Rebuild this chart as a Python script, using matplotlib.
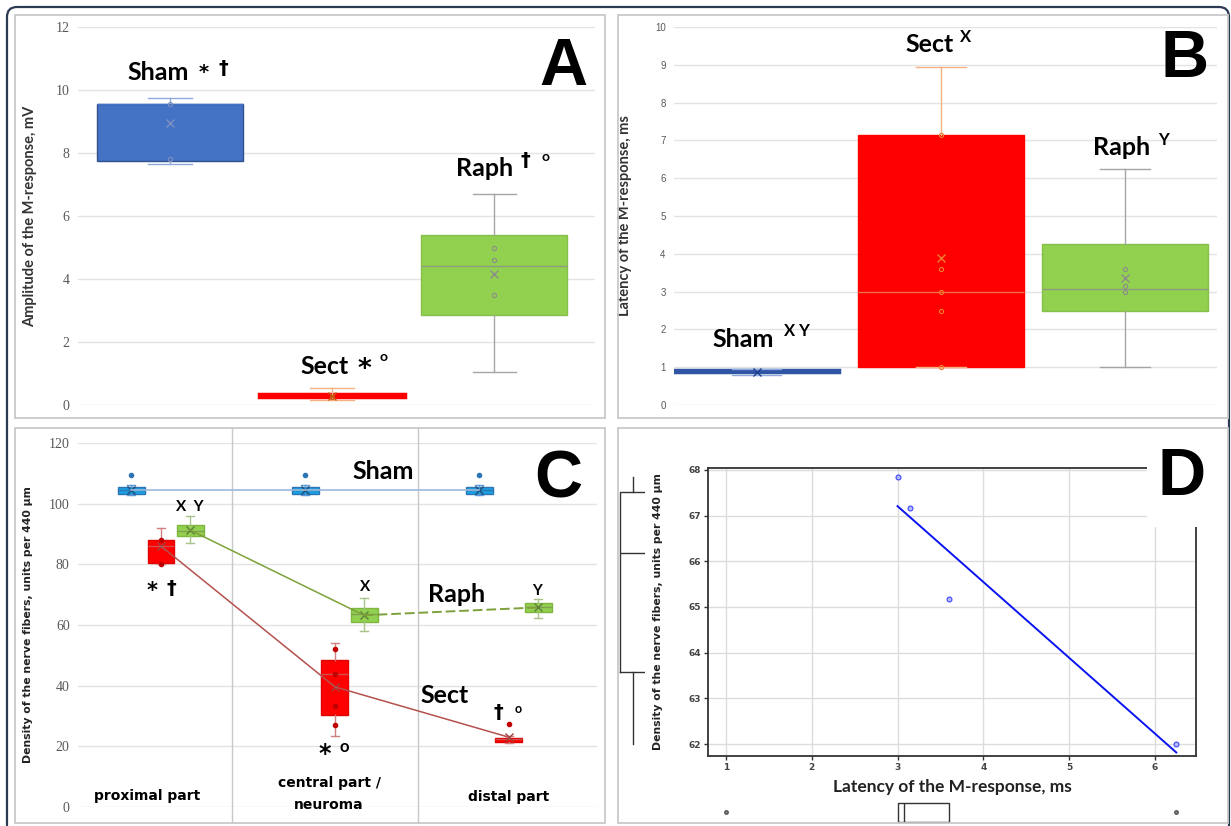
import numpy as np
import matplotlib.pyplot as plt
from matplotlib.patches import Rectangle, FancyBboxPatch
from matplotlib.transforms import IdentityTransform

W, H = 1231, 826

# ---------------- panel A: amplitude of the M-response, mV
a_pos = [0, 1, 2]
a_q1 = [7.75, 0.25, 2.85]
a_med = [9.55, 0.30, 4.40]
a_q3 = [9.55, 0.35, 5.40]
a_lo = [7.65, 0.15, 1.05]
a_hi = [9.75, 0.55, 6.70]
a_mean = [8.95, 0.30, 4.15]
a_pts = [[9.55, 7.80], [0.25], [5.0, 4.6, 3.5]]

# ---------------- panel B: latency of the M-response, ms
b_q1 = [0.87, 1.00, 2.50]
b_med = [0.90, 3.00, 3.08]
b_q3 = [0.93, 7.15, 4.25]
b_lo = [0.80, 1.00, 1.00]
b_hi = [0.95, 8.95, 6.25]
b_mean = [0.88, 3.90, 3.35]
b_pts = [[], [7.15, 3.6, 3.0, 2.5, 1.0], [3.6, 3.15, 3.0]]

# ---------------- panel C: density of nerve fibres along the nerve
c_parts = ["proximal part", "central part /\nneuroma", "distal part"]
sham_q1 = [103.3, 103.3, 103.3]
sham_med = [104.5, 104.5, 104.5]
sham_q3 = [105.6, 105.6, 105.6]
sham_lo = [102.8, 102.8, 102.8]
sham_hi = [106.0, 106.0, 106.0]
sham_mean = [104.6, 104.6, 104.6]
sham_out = [[109.5], [109.5], [109.5]]

sect_q1 = [80.4, 30.3, 21.4]
sect_med = [86.0, 44.0, 22.5]
sect_q3 = [88.0, 48.5, 22.9]
sect_lo = [80.0, 23.5, 21.2]
sect_hi = [92.0, 54.0, 23.5]
sect_mean = [86.0, 39.6, 23.0]
sect_pts = [[88.0, 80.0], [52.0, 44.0, 33.3, 27.0], [27.5]]

raph_q1 = [89.3, 61.0, 64.3]
raph_med = [91.0, 63.5, 65.8]
raph_q3 = [93.0, 65.5, 67.3]
raph_lo = [87.0, 58.0, 62.3]
raph_hi = [96.0, 69.0, 68.5]
raph_mean = [91.3, 63.2, 65.8]

# ---------------- panel D: Raph, latency vs density (distal part)
d_lat = [3.0, 3.15, 3.6, 6.25]
d_den = [67.85, 67.17, 65.17, 62.0]
d_lat_all = [1.0, 3.0, 3.0, 3.15, 3.6, 6.25]

LATO = ["Lato", "DejaVu Sans"]
DJV = ["DejaVu Sans"]
GRID = "#e3e3e3"


def px_rect(x0, y0, x1, y1):
    return [x0 / W, 1 - y1 / H, (x1 - x0) / W, (y1 - y0) / H]


def ptext(x, y, s, size, va="baseline", ha="left", family=LATO, **kw):
    fig.text(x / W, 1 - y / H, s, fontsize=size, va=va, ha=ha,
             family=family, fontweight="bold", **kw)


def draw_box(ax, pos, q1, med, q3, lo, hi, mean, width, face, edge, wcol,
             mcol, medcol, fliers=(), lw=1.0):
    st = [dict(med=med, q1=q1, q3=q3, whislo=lo, whishi=hi, mean=mean,
               fliers=list(fliers))]
    ax.bxp(st, positions=[pos], widths=width, patch_artist=True,
           showmeans=True, capwidths=width * 0.3, manage_ticks=False,
           boxprops=dict(facecolor=face, edgecolor=edge, linewidth=lw),
           medianprops=dict(color=medcol, linewidth=1),
           whiskerprops=dict(color=wcol, linewidth=1),
           capprops=dict(color=wcol, linewidth=1),
           meanprops=dict(marker="x", markeredgecolor=mcol, markersize=6,
                          markeredgewidth=1),
           flierprops=dict(marker="o", markerfacecolor=edge,
                           markeredgecolor=edge, markersize=3),
           zorder=3)


def excel_axes(ax, serif=True, size=9):
    for s in ax.spines.values():
        s.set_visible(False)
    ax.grid(axis="y", color=GRID, lw=1)
    ax.set_axisbelow(True)
    ax.set_xticks([])
    fam = "Liberation Serif" if serif else "Liberation Sans"
    ax.tick_params(axis="y", length=0, pad=6, labelsize=size,
                   labelcolor="#595959", labelfontfamily=fam)


fig = plt.figure(figsize=(W / 100, H / 100), dpi=100)

# outer rounded frame and panel frames
fig.add_artist(FancyBboxPatch((7, -20), 1222, 20 + H - 7,
                              boxstyle="round,pad=0,rounding_size=10",
                              fill=False, ec="#2b3a55", lw=1.6,
                              transform=IdentityTransform()))
for (x0, y0, x1, y1) in [(15, 15, 605, 418), (618, 15, 1228, 418),
                         (15, 428, 605, 823), (618, 428, 1228, 823)]:
    fig.add_artist(Rectangle((x0, H - y1), x1 - x0, y1 - y0, fill=False,
                             ec="#c9c9c9", lw=1.3,
                             transform=IdentityTransform()))

# ================= A =================
axA = fig.add_axes(px_rect(78, 27, 595, 405))
excel_axes(axA, serif=True, size=10)
axA.set_ylim(0, 12)
axA.set_yticks(range(0, 13, 2))
axA.set_xlim(-0.568, 2.62)
a_style = [("#4472C4", "#2F528F", "#8FAADC", "#7F8FBF", "#4472C4"),
           ("#FF0000", "#FF0000", "#F4B183", "#C55A11", "#FF0000"),
           ("#92D050", "#86BF49", "#A5A5A5", "#8C8C8C", "#8C9C7C")]
for i in range(3):
    face, edge, wcol, mcol, medcol = a_style[i]
    draw_box(axA, a_pos[i], a_q1[i], a_med[i], a_q3[i], a_lo[i], a_hi[i],
             a_mean[i], 0.9, face, edge, wcol, mcol, medcol,
             lw=2.5 if i == 1 else 1.0)
    axA.plot([a_pos[i]] * len(a_pts[i]), a_pts[i], "o", ms=3, mfc="none",
             mec=mcol, mew=0.8, zorder=4)
axA.set_ylabel("Amplitude of the M-response, mV", family=LATO,
               fontweight="bold", fontsize=10.5, color="#333333")
axA.yaxis.set_label_coords(-0.08, 0.5)

ptext(127, 80, "Sham", 18)
ptext(204, 78, "*", 14, ha="center", family=DJV)
ptext(223, 68, "\u2020", 14, va="center", ha="center", family=DJV)
ptext(300, 374, "Sect", 18)
ptext(364, 377, "*", 19, ha="center", family=DJV)
ptext(383, 357, "o", 10, va="center", ha="center")
ptext(456, 176, "Raph", 18)
ptext(525, 160, "\u2020", 14, va="center", ha="center", family=DJV)
ptext(545, 157, "o", 10, va="center", ha="center")
ptext(563, 68, "A", 48, va="center", ha="center", family=["Liberation Sans"])

# ================= B =================
axB = fig.add_axes(px_rect(674, 27, 1217, 405))
excel_axes(axB, serif=False, size=7)
axB.set_ylim(0, 10)
axB.set_yticks(range(0, 11))
axB.set_xlim(-0.448, 2.5)
b_style = [("#2F55A4", "#2F55A4", "#8FAADC", "#1F3F8F", "#2F55A4"),
           ("#FF0000", "#FF0000", "#F4B183", "#ED7D31", "#E8704A"),
           ("#92D050", "#86BF49", "#A5A5A5", "#8C8C8C", "#8C9C7C")]
for i in range(3):
    face, edge, wcol, mcol, medcol = b_style[i]
    draw_box(axB, a_pos[i], b_q1[i], b_med[i], b_q3[i], b_lo[i], b_hi[i],
             b_mean[i], 0.9, face, edge, wcol, mcol, medcol,
             lw=2.5 if i == 0 else 1.0)
    if b_pts[i]:
        axB.plot([a_pos[i]] * len(b_pts[i]), b_pts[i], "o", ms=3,
                 mfc="none", mec=mcol, mew=0.8, zorder=4)
axB.set_ylabel("Latency of the M-response, ms", family=LATO,
               fontweight="bold", fontsize=10.5, color="#333333")
axB.yaxis.set_label_coords(-0.078, 0.5)

ptext(905, 52, "Sect", 18)
ptext(966, 37, "X", 12, va="center", ha="center")
ptext(1093, 155, "Raph", 18)
ptext(1163, 140, "Y", 12, va="center", ha="center")
ptext(712, 347, "Sham", 18)
ptext(797, 331, "X Y", 12, va="center", ha="center")
ptext(1185, 60, "B", 48, va="center", ha="center", family=["Liberation Sans"])

# ================= C =================
axC = fig.add_axes(px_rect(78, 443, 597, 807))
excel_axes(axC, serif=True, size=10)
axC.set_ylim(0, 120)
axC.set_yticks(range(0, 121, 20))
axC.set_xlim(-0.477, 2.506)
for xs in (0.408, 1.477):
    axC.axvline(xs, ymin=-0.044, ymax=1.041, color="#c8c8c8", lw=1,
                clip_on=False, zorder=1)

c_x = np.arange(3)
sham_x = c_x - 0.172
raph_x = c_x + 0.167
bw = 0.155
axC.plot(sham_x, sham_mean, color="#9DB9DA", lw=1.2, zorder=4)
axC.plot(c_x, sect_mean, color="#B5514E", lw=1.1, zorder=4)
axC.plot(raph_x[:2], raph_mean[:2], color="#7EA03B", lw=1.1, zorder=4)
axC.plot(raph_x[1:], raph_mean[1:], color="#7EA03B", lw=1.4, ls=(0, (5, 2)),
         zorder=4)
for i in range(3):
    draw_box(axC, sham_x[i], sham_q1[i], sham_med[i], sham_q3[i], sham_lo[i],
             sham_hi[i], sham_mean[i], bw, "#1BA1E2", "#2E75B6", "#5B9BD5",
             "#1F4E79", "#2E75B6", fliers=sham_out[i])
    draw_box(axC, c_x[i], sect_q1[i], sect_med[i], sect_q3[i], sect_lo[i],
             sect_hi[i], sect_mean[i], bw, "#FF0000", "#E00000", "#D08080",
             "#A04040", "#D05050")
    axC.plot([c_x[i]] * len(sect_pts[i]), sect_pts[i], "o", ms=3,
             color="#C00000", zorder=4)
    draw_box(axC, raph_x[i], raph_q1[i], raph_med[i], raph_q3[i], raph_lo[i],
             raph_hi[i], raph_mean[i], bw, "#92D050", "#7FB640", "#A9C48A",
             "#5E7F3A", "#7FA050")
axC.set_ylabel("Density of the nerve fibers, units per 440 \u00b5m",
               family=DJV, fontweight="bold", fontsize=7.8,
               color="#222222")
axC.yaxis.set_label_coords(-0.087, 0.5)

ptext(147, 800, c_parts[0], 10, ha="center", family=DJV)
ptext(329, 787, c_parts[1].split("\n")[0], 10, ha="center", family=DJV)
ptext(329, 809, c_parts[1].split("\n")[1], 10, ha="center", family=DJV)
ptext(509, 801, c_parts[2], 10, ha="center", family=DJV)

ptext(352, 479, "Sham", 18)
ptext(190, 507, "X  Y", 11, va="center", ha="center")
ptext(152, 597, "*", 15, ha="center", family=DJV)
ptext(171, 588, "\u2020", 14, va="center", ha="center", family=DJV)
ptext(365, 587, "X", 11, va="center", ha="center")
ptext(428, 602, "Raph", 18)
ptext(537, 591, "Y", 11, va="center", ha="center")
ptext(420, 703, "Sect", 18)
ptext(325, 761, "*", 17, ha="center", family=DJV)
ptext(344, 747, "o", 12, va="center", ha="center")
ptext(498, 713, "\u2020", 14, va="center", ha="center", family=DJV)
ptext(518, 709, "o", 9, va="center", ha="center")
ptext(558, 481, "C", 48, va="center", ha="center", family=["Liberation Sans"])


# ================= D =================
def tukey(v):
    v = np.sort(np.asarray(v, float))
    n = len(v)
    half = (n + 1) // 2
    q1, med, q3 = np.median(v[:half]), np.median(v), np.median(v[n - half:])
    iqr = q3 - q1
    inside = v[(v >= q1 - 1.5 * iqr) & (v <= q3 + 1.5 * iqr)]
    out = v[(v < q1 - 1.5 * iqr) | (v > q3 + 1.5 * iqr)]
    return dict(med=med, q1=q1, q3=q3, whislo=inside.min(),
                whishi=inside.max(), fliers=list(out))


axD = fig.add_axes(px_rect(708, 468, 1196, 756))
axD.set_xlim(0.79, 6.48)
axD.set_ylim(61.74, 68.04)
axD.set_xticks(range(1, 7))
axD.set_yticks(range(62, 69))
axD.grid(color="#dcdcdc", lw=1)
axD.set_axisbelow(True)
for s in axD.spines.values():
    s.set_color("#333333")
    s.set_linewidth(1.3)
axD.tick_params(length=3, width=1, color="#333333", labelsize=6.5,
                labelcolor="#444444", pad=2)
for t in axD.get_xticklabels() + axD.get_yticklabels():
    t.set_fontweight("bold")
axD.plot(d_lat, d_den, "o", ms=3.5, mfc="#b8bcff", mec="#3a46ff", mew=0.8,
         zorder=4)
k, b = np.polyfit(d_lat, d_den, 1)
xf = np.array([min(d_lat), max(d_lat)])
axD.plot(xf, k * xf + b, color="#0a14f0", lw=1.4, zorder=3)
axD.set_xlabel("Latency of the M-response, ms", family=LATO,
               fontweight="bold", fontsize=12.5, color="#222222", labelpad=5)
axD.set_ylabel("Density of the nerve fibers, units per 440 \u00b5m",
               family=DJV, fontweight="bold", fontsize=7.8,
               color="#222222")
axD.yaxis.set_label_coords(-0.092, 0.5)

# marginal box plots
axDL = fig.add_axes(px_rect(612, 468, 645, 756))
axDL.set_ylim(axD.get_ylim())
axDL.set_xlim(-0.81, 0.46)
axDL.bxp([tukey(d_den)], positions=[0], widths=1, showcaps=False,
         orientation="vertical", manage_ticks=False,
         boxprops=dict(color="#333333", lw=1),
         whiskerprops=dict(color="#333333", lw=1),
         medianprops=dict(color="#333333", lw=1))
axDL.axis("off")

axDB = fig.add_axes(px_rect(708, 798, 1196, 826))
axDB.set_xlim(axD.get_xlim())
axDB.set_ylim(-0.71, 0.76)
axDB.bxp([tukey(d_lat_all)], positions=[0], widths=1, showcaps=False,
         orientation="horizontal", manage_ticks=False,
         boxprops=dict(color="#333333", lw=1),
         whiskerprops=dict(color="#333333", lw=1),
         medianprops=dict(color="#333333", lw=1),
         flierprops=dict(marker="o", ms=2.5, mfc="#888888", mec="#555555"))
axDB.axis("off")

fig.add_artist(Rectangle((1147, H - 527), 68, 72, fc="white", ec="none",
                         transform=IdentityTransform(), zorder=2.5))
ptext(1182, 478, "D", 48, va="center", ha="center",
      family=["Liberation Sans"], zorder=4)

fig.savefig("out.png", dpi=100)
